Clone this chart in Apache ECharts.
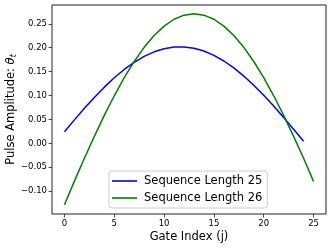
<!DOCTYPE html>
<html><head><meta charset="utf-8">
<script src="https://cdn.jsdelivr.net/npm/echarts@6/dist/echarts.min.js"></script>
<style>html,body{margin:0;padding:0;background:#fff}#c{width:332px;height:248px}</style>
</head><body><div id="c"></div>
<script>
const seriesNames = ['Sequence Length 25', 'Sequence Length 26'];
const seq25 = [0.0243,0.0491,0.0732,0.0961,0.1175,0.1371,0.1545,0.1695,0.1819,0.1914,0.1980,0.2014,0.2017,0.1989,0.1930,0.1840,0.1722,0.1577,0.1407,0.1216,0.1005,0.0780,0.0540,0.0294,0.0042];
const seq26 = [-0.1285,-0.0790,-0.0312,0.0147,0.0585,0.0995,0.1373,0.1712,0.2008,0.2256,0.2452,0.2595,0.2681,0.2710,0.2681,0.2595,0.2452,0.2256,0.2008,0.1712,0.1373,0.0995,0.0585,0.0147,-0.0312,-0.0795];
const xTicks = [0,5,10,15,20,25];
const yTicks = [-0.10,-0.05,0.00,0.05,0.10,0.15,0.20,0.25];
const colors = ['#0000ff','#008000'];
const FONT = 'DejaVu Sans';

const chart = echarts.init(document.getElementById('c'), null, {renderer:'canvas'});
chart.setOption({
  animation:false,
  backgroundColor:'#fff',
  grid:{left:52,right:6,top:5,bottom:34,containLabel:false,outerBoundsMode:'none',show:true,borderColor:'#222',borderWidth:1,backgroundColor:'transparent'},
  xAxis:{
    type:'value',min:-1.25,max:26.25,
    name:'Gate Index (j)',nameLocation:'middle',nameGap:17,nameMoveOverlap:false,
    nameTextStyle:{fontFamily:FONT,fontSize:11.5,color:'#000',verticalAlign:'top'},
    axisLine:{show:false,onZero:false},
    splitLine:{show:false},
    axisTick:{show:true,inside:false,customValues:xTicks,length:3.5,lineStyle:{color:'#222',width:0.8}},
    axisLabel:{customValues:xTicks,margin:5,fontFamily:FONT,fontSize:8.5,color:'#000'}
  },
  yAxis:{
    type:'value',min:-0.1477,max:0.2893,
    name:'Pulse Amplitude: {i|θ}{s|t}',nameLocation:'middle',nameGap:34,nameRotate:90,nameMoveOverlap:false,
    nameTextStyle:{fontFamily:FONT,fontSize:11.5,color:'#000',
      rich:{i:{fontFamily:FONT,fontSize:11.5,fontStyle:'italic',color:'#000'},
            s:{fontFamily:FONT,fontSize:8,fontStyle:'italic',color:'#000',verticalAlign:'bottom',padding:[6,0,0,0]}}},
    axisLine:{show:false,onZero:false},
    splitLine:{show:false},
    axisTick:{show:true,inside:false,customValues:yTicks,length:3.5,lineStyle:{color:'#222',width:0.8}},
    axisLabel:{customValues:yTicks,margin:5,fontFamily:FONT,fontSize:8.5,color:'#000',
      formatter:v=>Number(v).toFixed(2).replace('-','\u2212')}
  },
  legend:{
    orient:'vertical',left:109,top:171,
    padding:[3,5,3,3],itemGap:3,itemWidth:25,itemHeight:1.6,icon:'rect',
    backgroundColor:'rgba(255,255,255,0.8)',borderColor:'#cccccc',borderWidth:1,borderRadius:3,
    textStyle:{fontFamily:FONT,fontSize:11.5,color:'#000',lineHeight:14,padding:[0,0,0,2]},
    data:seriesNames
  },
  series:[
    {name:seriesNames[0],type:'line',symbol:'none',data:seq25.map((v,i)=>[i,v]),
     lineStyle:{color:colors[0],width:1.5},itemStyle:{color:colors[0]}},
    {name:seriesNames[1],type:'line',symbol:'none',data:seq26.map((v,i)=>[i,v]),
     lineStyle:{color:colors[1],width:1.5},itemStyle:{color:colors[1]}}
  ]
});
</script></body></html>
